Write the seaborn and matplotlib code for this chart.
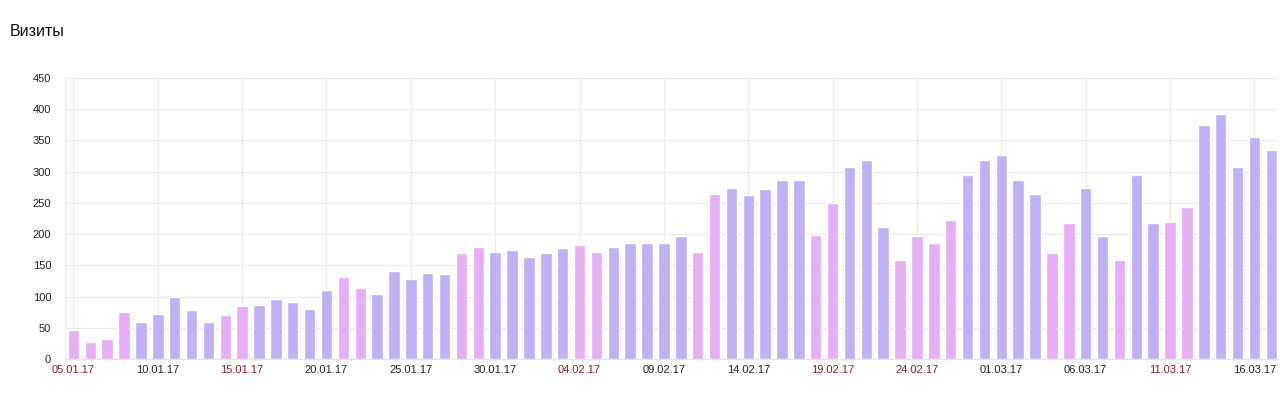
import numpy as np
import pandas as pd
import seaborn as sns
import matplotlib.pyplot as plt

# --- data ---
visits_jan = [46, 28, 32, 76, 59, 72, 100, 78, 60, 70, 85, 86, 96, 92, 80, 110,
              131, 113, 104, 141, 128, 138, 136, 169, 180, 172, 175]
visits_feb = [163, 169, 177, 182, 172, 179, 186, 186, 185, 197, 171, 265, 274, 262,
              273, 287, 286, 198, 250, 308, 319, 211, 158, 197, 185, 222, 294, 319]
visits_mar = [327, 286, 265, 170, 217, 274, 197, 158, 295, 217, 220, 243, 375, 393,
              308, 356, 335]
holidays = ["2017-01-05", "2017-01-06", "2017-01-07", "2017-01-08", "2017-01-14",
            "2017-01-15", "2017-01-21", "2017-01-22", "2017-01-28", "2017-01-29",
            "2017-02-04", "2017-02-05", "2017-02-11", "2017-02-12", "2017-02-18",
            "2017-02-19", "2017-02-23", "2017-02-24", "2017-02-25", "2017-02-26",
            "2017-03-04", "2017-03-05", "2017-03-08", "2017-03-11", "2017-03-12"]

visits = visits_jan + visits_feb + visits_mar
dates = pd.date_range("2017-01-05", periods=len(visits), freq="D")
df = pd.DataFrame({"date": dates, "visits": visits})
df["pos"] = np.arange(len(df))
df["kind"] = np.where(df["date"].isin(pd.to_datetime(holidays)), "holiday", "work")

purple = "#c0b0f6"
pink = "#e6aef6"

sns.set_style("white")
plt.rcParams["font.family"] = ["Liberation Sans", "DejaVu Sans"]

fig = plt.figure(figsize=(12.8, 3.97), dpi=100)
ax = fig.add_axes([65 / 1280, 1 - 359 / 397, 1213 / 1280, 281 / 397])

sns.barplot(data=df, x="pos", y="visits", hue="kind",
            palette={"work": purple, "holiday": pink},
            dodge=False, width=0.68, legend=False, ax=ax, saturation=1)

ax.set_ylim(0, 450)
ax.set_xlim(-0.5, len(df) - 0.6)
ax.set_yticks(range(0, 451, 50))
ax.yaxis.grid(True, color="#ebebeb", lw=0.9)
ax.set_axisbelow(True)

# date labels every 5 days, holidays in dark red
tick_pos = df["pos"][::5]
ax.set_xticks(tick_pos)
ax.set_xticklabels(df["date"][::5].dt.strftime("%d.%m.%y"))
for p in tick_pos:
    ax.axvline(p, color="#ebebeb", lw=0.9, zorder=0)
ax.axvline(-0.5, color="#ebebeb", lw=0.9, zorder=0)

ax.tick_params(axis="both", length=0, labelsize=8, colors="#222222", pad=4)
ax.tick_params(axis="y", pad=10)
for lbl, kind in zip(ax.get_xticklabels(), df["kind"][::5]):
    lbl.set_color("#8b1c1c" if kind == "holiday" else "#222222")
ax.set_xlabel("")
ax.set_ylabel("")
for s in ["top", "right", "left"]:
    ax.spines[s].set_visible(False)
ax.spines["bottom"].set_color("#e3e3e3")
ax.spines["bottom"].set_linewidth(0.9)

fig.text(10 / 1280, 1 - 32 / 397, "Визиты", fontsize=11.5, color="#111111",
         va="center", ha="left")

fig.savefig("out.png", dpi=100)
